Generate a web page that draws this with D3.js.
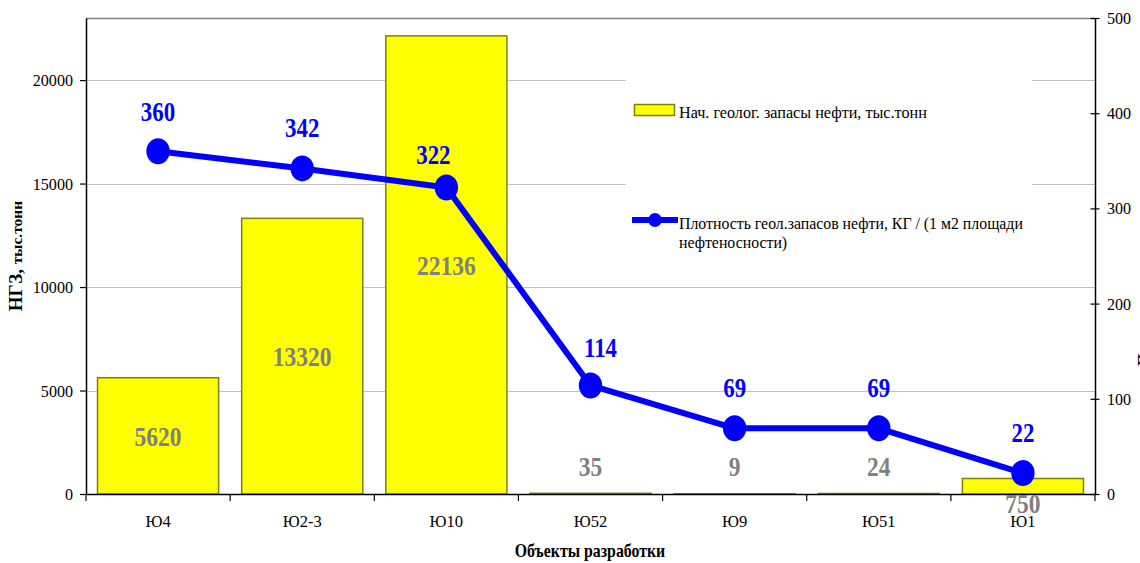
<!DOCTYPE html>
<html><head><meta charset="utf-8">
<script src="https://cdn.jsdelivr.net/npm/d3@7"></script>
<style>body{margin:0;background:#fff}svg{display:block}text{font-family:"Liberation Serif","DejaVu Serif",serif}</style>
</head><body>
<svg id="chart" width="1140" height="563"></svg>
<script>
// ---- data ----
const categories = ["Ю4", "Ю2-3", "Ю10", "Ю52", "Ю9", "Ю51", "Ю1"];
const reserves = [5620, 13320, 22136, 35, 9, 24, 750];          // НГЗ, тыс.тонн
const density = [360, 342, 322, 114, 69, 69, 22];                // кг / м2
const leftTicks = [0, 5000, 10000, 15000, 20000];
const rightTicks = [0, 100, 200, 300, 400, 500];
const barSeriesName = "Нач. геолог. запасы нефти, тыс.тонн";
const lineSeriesNameLines = ["Плотность геол.запасов нефти, КГ / (1 м2 площади", "нефтеносности)"];
const leftTitleParts = ["НГЗ, ", "тыс.тонн"];
const xTitle = "Объекты разработки";
const rightTitle = "Плотность";

// ---- layout ----
const L = 86, R = 1095, T = 18, B = 494;
const barLabelPlacement = ["center", "center", "center", "above", "above", "above", "below"];
const lineLabelDx = [0, 0, -13, 10, 0, 0, 0];
const lineLabelDy = [-30, -31, -23, -28, -31, -31, -31];

const svg = d3.select("#chart");

const x = d3.scaleBand().domain(categories).range([L, R]).paddingInner(0.16).paddingOuter(0.08);
const yL = d3.scaleLinear().domain([0, 23000]).range([B, T]);
const yR = d3.scaleLinear().domain([0, 500]).range([B, T]);

function label(parent, px, py, str, o) {
  const g = parent.append("g")
    .attr("transform", `translate(${px},${py})` + (o.rotate ? ` rotate(${o.rotate})` : ""));
  const t = g.append("text")
    .attr("transform", `scale(${o.sx == null ? 1 : o.sx},1)`)
    .attr("text-anchor", o.anchor || "start")
    .attr("font-family", "Liberation Serif, DejaVu Serif, serif")
    .attr("font-size", (o.size || 16))
    .attr("font-weight", o.bold ? "bold" : "normal")
    .attr("fill", o.fill || "#000");
  if (str != null) t.text(str);
  return t;
}

// gridlines
svg.append("g").selectAll("line").data(leftTicks.filter(d => d > 0)).join("line")
  .attr("x1", L).attr("x2", R)
  .attr("y1", d => Math.round(yL(d)) + 0.5).attr("y2", d => Math.round(yL(d)) + 0.5)
  .attr("stroke", "#c0c0c0").attr("stroke-width", 1);

// top border
svg.append("line").attr("x1", L).attr("x2", R).attr("y1", T + 0.5).attr("y2", T + 0.5)
  .attr("stroke", "#808080").attr("stroke-width", 1.5);

// bars
svg.append("g").selectAll("rect").data(reserves).join("rect")
  .attr("x", (d, i) => x(categories[i]))
  .attr("width", x.bandwidth())
  .attr("y", d => yL(d))
  .attr("height", d => yL(0) - yL(d))
  .attr("fill", "#ffff00").attr("stroke", "#808000").attr("stroke-width", 1.5);

// left axis
const axL = svg.append("g").attr("transform", `translate(${L},0)`)
  .call(d3.axisLeft(yL).tickValues(leftTicks).tickSize(6).tickSizeOuter(0).tickFormat(d3.format("d")));
axL.select(".domain").attr("stroke", "#000").attr("stroke-width", 1.5);
axL.selectAll(".tick line").attr("stroke", "#000").attr("stroke-width", 1.2);
axL.selectAll(".tick text").remove();
leftTicks.forEach(v => label(svg, L - 13, yL(v) + 6, String(v), {anchor: "end", size: 17.5, sx: 0.92}));

// right axis
const axR = svg.append("g").attr("transform", `translate(${R},0)`)
  .call(d3.axisRight(yR).tickValues(rightTicks).tickSize(4.5).tickSizeOuter(0));
axR.select(".domain").attr("stroke", "#000").attr("stroke-width", 1.5);
axR.selectAll(".tick line").attr("x1", -4.5).attr("stroke", "#000").attr("stroke-width", 1.2);
axR.selectAll(".tick text").remove();
rightTicks.forEach(v => label(svg, R + 12, yR(v) + 6, String(v), {anchor: "start", size: 17.5, sx: 0.92}));

// bottom axis
const axB = svg.append("g").attr("transform", `translate(0,${B})`)
  .call(d3.axisBottom(x).tickSize(0).tickSizeOuter(0));
axB.select(".domain").attr("stroke", "#000").attr("stroke-width", 1.5);
axB.selectAll(".tick text").remove();
const step = x.step();
axB.selectAll("line.bnd").data(d3.range(categories.length + 1)).join("line").attr("class", "bnd")
  .attr("x1", i => L + i * step).attr("x2", i => L + i * step)
  .attr("y1", 0).attr("y2", 7).attr("stroke", "#000").attr("stroke-width", 1.2);
categories.forEach(c => label(svg, x(c) + x.bandwidth() / 2, 527, c, {anchor: "middle", size: 16.5, sx: 1}));

// line series
const cx = (d, i) => x(categories[i]) + x.bandwidth() / 2;
svg.append("path").datum(density)
  .attr("d", d3.line().x(cx).y(d => yR(d)))
  .attr("fill", "none").attr("stroke", "#0000ff").attr("stroke-width", 6).attr("stroke-linejoin", "round");
svg.append("g").selectAll("ellipse").data(density).join("ellipse")
  .attr("cx", cx).attr("cy", d => yR(d)).attr("rx", 11.7).attr("ry", 13)
  .attr("fill", "#0000ff");

// bar value labels
reserves.forEach((v, i) => {
  const p = barLabelPlacement[i];
  let by;
  if (p === "center") by = (yL(v) + yL(0)) / 2 + 10;
  else if (p === "above") by = yL(0) - 18;
  else by = yL(0) + 19;
  label(svg, cx(v, i), by, String(v), {anchor: "middle", size: 28, bold: true, sx: 0.84, fill: "#808080"});
});

// line value labels
density.forEach((v, i) => {
  label(svg, cx(v, i) + lineLabelDx[i], yR(v) + lineLabelDy[i], String(v),
    {anchor: "middle", size: 27, bold: true, sx: 0.85, fill: "#0000ff"});
});

// legend
const lg = svg.append("g");
lg.append("rect").attr("x", 626).attr("y", 70).attr("width", 406).attr("height", 195).attr("fill", "#fff");
lg.append("rect").attr("x", 634.5).attr("y", 104.5).attr("width", 40).attr("height", 11)
  .attr("fill", "#ffff00").attr("stroke", "#808000").attr("stroke-width", 1.5);
label(lg, 679, 118, barSeriesName, {size: 16.5, sx: 0.98});
lg.append("line").attr("x1", 632).attr("x2", 678).attr("y1", 220).attr("y2", 220)
  .attr("stroke", "#0000ff").attr("stroke-width", 6);
lg.append("ellipse").attr("cx", 655).attr("cy", 220).attr("rx", 6.7).attr("ry", 7).attr("fill", "#0000ff");
lineSeriesNameLines.forEach((s, k) => label(lg, 679, 229 + k * 19, s, {size: 16.5, sx: 0.96}));

// axis titles
const lt = label(svg, 22, 256, null, {anchor: "middle", rotate: -90, bold: true, size: 17, sx: 1});
lt.append("tspan").attr("font-size", 19).text(leftTitleParts[0]);
lt.append("tspan").attr("font-size", 15.5).text(leftTitleParts[1]);
label(svg, 590, 557, xTitle, {anchor: "middle", size: 18, bold: true, sx: 0.88});
label(svg, 1151, 366, rightTitle, {anchor: "start", rotate: -90, size: 19, bold: true, sx: 0.83});
</script>
</body></html>
